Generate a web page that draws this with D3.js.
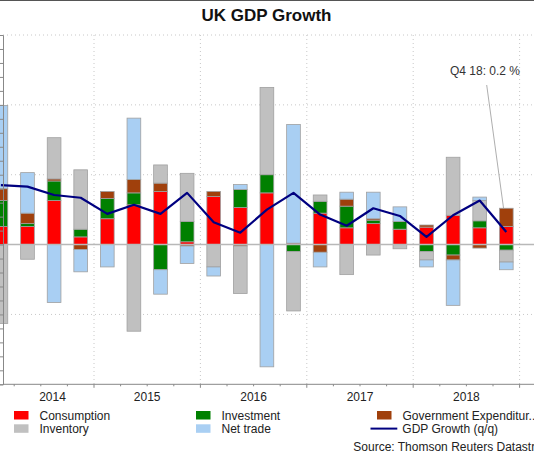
<!DOCTYPE html>
<html>
<head>
<meta charset="utf-8">
<script src="https://cdn.jsdelivr.net/npm/d3@7"></script>
<style>
  html, body { margin: 0; padding: 0; background: #fff; }
  svg { display: block; font-family: Arial, "Liberation Sans", sans-serif; }
</style>
</head>
<body>
<div id="chart"></div>
<script>
// quarters Q1 2014 .. Q4 2018
const quarters = ['Q1 14','Q2 14','Q3 14','Q4 14','Q1 15','Q2 15','Q3 15','Q4 15',
                  'Q1 16','Q2 16','Q3 16','Q4 16','Q1 17','Q2 17','Q3 17','Q4 17',
                  'Q1 18','Q2 18','Q3 18','Q4 18'];
const years = ['2014', '2015', '2016', '2017', '2018'];

// contributions, percentage points
const consumption = [0.26, 0.26, 0.63, 0.11, 0.37, 0.57, 0.76, 0.04, 0.69, 0.53,
                     0.74, 0.02, 0.45, 0.24, 0.30, 0.22, 0.25, 0.42, 0.24, 0.26];
const investment  = [0.37, 0.04, 0.28, 0.11, 0.29, 0.17, -0.36, 0.29, 0.00, 0.26,
                     0.26, -0.10, 0.17, 0.31, 0.05, 0.11, -0.10, -0.15, 0.10, -0.08];
const government  = [0.17, 0.15, 0.03, -0.07, 0.10, 0.19, 0.12, -0.02, 0.07, -0.02,
                     0.00, 0.00, -0.11, 0.10, 0.02, 0.00, 0.03, -0.07, -0.05, 0.26];
const inventory   = [-1.13, -0.21, 0.59, 0.85, 0.00, -1.24, 0.26, 0.69, -0.32, -0.68,
                     1.25, -0.85, 0.09, -0.43, -0.15, -0.06, -0.12, 0.83, 0.29, -0.17];
const netTrade    = [1.19, 0.58, -0.83, -0.32, -0.32, 0.88, -0.35, -0.25, -0.13, 0.07,
                     -1.75, 1.70, -0.21, 0.10, 0.38, 0.21, -0.10, -0.65, 0.05, -0.11];
const gdpGrowth   = [0.85, 0.83, 0.71, 0.67, 0.44, 0.57, 0.44, 0.74, 0.32, 0.17,
                     0.50, 0.74, 0.43, 0.27, 0.52, 0.41, 0.11, 0.42, 0.63, 0.18];

const yTicks = [-2, -1, 0, 1, 2, 3];

const series = [
  { key: 'consumption', name: 'Consumption', color: '#ff0000', values: consumption },
  { key: 'investment', name: 'Investment', color: '#008000', values: investment },
  { key: 'government', name: 'Government Expenditur...', color: '#a0400c', values: government },
  { key: 'inventory', name: 'Inventory', color: '#c0c0c0', values: inventory },
  { key: 'netTrade', name: 'Net trade', color: '#a9cff3', values: netTrade }
];

const table = quarters.map((q, i) => {
  const row = { quarter: q };
  series.forEach(s => { row[s.key] = s.values[i]; });
  return row;
});

const W = 534, H = 460;
const plot = { left: 3, right: 560, top: 35, bottom: 384.3 };

const svg = d3.select('#chart').append('svg')
  .attr('width', W)
  .attr('height', H);

// top frame line
svg.append('line')
  .attr('x1', 0).attr('x2', W).attr('y1', 0.5).attr('y2', 0.5)
  .attr('stroke', '#555').attr('stroke-width', 1);

svg.append('text')
  .attr('x', 266.5).attr('y', 20.7)
  .attr('text-anchor', 'middle')
  .attr('font-size', 17).attr('font-weight', 'bold')
  .attr('fill', '#111')
  .text('UK GDP Growth');

const x = d3.scaleBand()
  .domain(quarters)
  .range([-12.4, 519.6])
  .paddingInner(0.485)
  .paddingOuter(0.2425);

const y = d3.scaleLinear()
  .domain([-2, 3])
  .range([plot.bottom, plot.top]);

const step = x.step();
const gap = (step - x.bandwidth()) / 2;
const boundary = q => x(q) - gap;

// grid
const grid = svg.append('g');
yTicks.filter(t => t !== 0 && t !== -2).forEach(t => {
  grid.append('line')
    .attr('x1', plot.left).attr('x2', plot.right)
    .attr('y1', y(t)).attr('y2', y(t))
    .attr('stroke', '#c8c8c8').attr('stroke-dasharray', '1,3');
});
const yearBounds = years.slice(1).map(yr => boundary('Q1 ' + yr.slice(2)))
  .concat([x(quarters[quarters.length - 1]) + x.bandwidth() + gap]);
yearBounds.forEach(bx => {
  grid.append('line')
    .attr('x1', bx).attr('x2', bx)
    .attr('y1', plot.top).attr('y2', plot.bottom)
    .attr('stroke', '#c8c8c8').attr('stroke-dasharray', '1,3');
});

// stacked bars
const stack = d3.stack()
  .keys(series.map(s => s.key))
  .offset(d3.stackOffsetDiverging);
const stacked = stack(table);

svg.append('g')
  .selectAll('g')
  .data(stacked)
  .join('g')
  .attr('fill', (d, i) => series[i].color)
  .selectAll('rect')
  .data(d => d)
  .join('rect')
  .attr('x', d => x(d.data.quarter))
  .attr('width', x.bandwidth())
  .attr('y', d => y(Math.max(d[0], d[1])))
  .attr('height', d => Math.abs(y(d[0]) - y(d[1])))
  .attr('stroke', d => Math.abs(d[1] - d[0]) > 0 ? '#a0a0a0' : 'none')
  .attr('stroke-width', 0.8);

// zero line
svg.append('line')
  .attr('x1', plot.left).attr('x2', plot.right)
  .attr('y1', y(0)).attr('y2', y(0))
  .attr('stroke', '#b8b8b8').attr('stroke-width', 1.5);

// GDP line
const line = d3.line()
  .x((d, i) => x(quarters[i]) + x.bandwidth() / 2)
  .y(d => y(d));
svg.append('path')
  .datum(gdpGrowth)
  .attr('d', line)
  .attr('fill', 'none')
  .attr('stroke', '#000080')
  .attr('stroke-width', 2.2)
  .attr('stroke-linejoin', 'round');

// axes
const yAxis = d3.axisLeft(y)
  .tickValues(d3.range(-2, 3.001, 0.2))
  .tickSize(3)
  .tickFormat('');
const gy = svg.append('g')
  .attr('transform', `translate(${plot.left},0)`)
  .call(yAxis);
gy.select('.domain').attr('stroke', '#888');
gy.selectAll('.tick line').attr('stroke', '#888');

svg.append('line')
  .attr('x1', plot.left).attr('x2', plot.right)
  .attr('y1', plot.bottom).attr('y2', plot.bottom)
  .attr('stroke', '#888');

const qBounds = quarters.slice(1).map(boundary)
  .concat([x(quarters[quarters.length - 1]) + x.bandwidth() + gap]);
qBounds.forEach((bx, i) => {
  const major = (i + 1) % 4 === 0;
  svg.append('line')
    .attr('x1', bx).attr('x2', bx)
    .attr('y1', plot.bottom).attr('y2', plot.bottom + (major ? 3.5 : 2))
    .attr('stroke', '#888');
});

years.forEach((yr, i) => {
  const x0 = Math.max(plot.left, boundary(quarters[i * 4]));
  const x1 = boundary(quarters[i * 4]) + 4 * step;
  svg.append('text')
    .attr('x', i === 0 ? (x0 + x1) / 2 + 4 : (x0 + x1) / 2)
    .attr('y', 401.3)
    .attr('text-anchor', 'middle')
    .attr('font-size', 12)
    .attr('fill', '#222')
    .text(yr);
});

// annotation for last quarter
const lastQ = quarters[quarters.length - 1];
const lastTop = d3.max(stacked, s => s[s.length - 1][1]);
svg.append('line')
  .attr('x1', 486.7).attr('y1', 85)
  .attr('x2', x(lastQ) + x.bandwidth() * 0.3).attr('y2', y(lastTop))
  .attr('stroke', '#999').attr('stroke-width', 0.8);
svg.append('text')
  .attr('x', 520).attr('y', 75.3)
  .attr('text-anchor', 'end')
  .attr('font-size', 12)
  .attr('fill', '#333')
  .text('Q4 18: ' + d3.format('.1f')(gdpGrowth[gdpGrowth.length - 1]) + ' %');

// legend
const legendPos = [
  { x: 14, row: 0 },   // consumption
  { x: 196, row: 0 },  // investment
  { x: 377, row: 0 },  // government
  { x: 14, row: 1 },   // inventory
  { x: 196, row: 1 }   // net trade
];
const legend = svg.append('g');
series.forEach((s, i) => {
  const p = legendPos[i];
  const yy = 411 + p.row * 13.3;
  legend.append('rect')
    .attr('x', p.x).attr('y', yy)
    .attr('width', 14.5).attr('height', 8.5)
    .attr('fill', s.color);
  legend.append('text')
    .attr('x', p.x + 25.5).attr('y', yy + 8.7)
    .attr('font-size', 12)
    .attr('fill', '#222')
    .text(s.name);
});
legend.append('line')
  .attr('x1', 370.5).attr('x2', 397.3)
  .attr('y1', 428.6).attr('y2', 428.6)
  .attr('stroke', '#000080').attr('stroke-width', 2);
legend.append('text')
  .attr('x', 402.3).attr('y', 433)
  .attr('font-size', 12)
  .attr('fill', '#222')
  .text('GDP Growth (q/q)');

svg.append('text')
  .attr('x', 353.3).attr('y', 450.5)
  .attr('font-size', 12)
  .attr('fill', '#222')
  .text('Source: Thomson Reuters Datastream');
</script>
</body>
</html>
